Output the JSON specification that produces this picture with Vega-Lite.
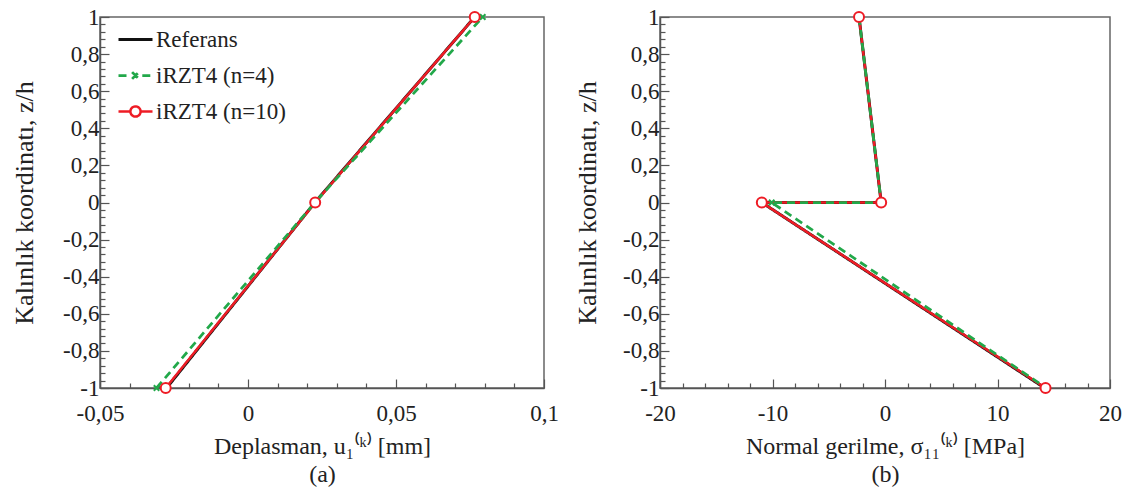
{
  "$schema": "https://vega.github.io/schema/vega-lite/v6.json",
  "padding": {"left": 10, "top": 5, "right": 5, "bottom": 5},
  "config": {
    "locale": {"number": {"decimal": ",", "thousands": ".", "grouping": [3], "currency": ["", ""], "minus": "-"}},
    "font": "Liberation Serif",
    "view": {"stroke": "#666", "strokeWidth": 1.5},
    "axis": {"grid": false, "domainColor": "#555", "domainWidth": 1.5, "tickColor": "#555", "tickWidth": 1.2,
      "labelFont": "Liberation Serif", "labelFontSize": 23, "labelColor": "#222",
      "titleFont": "Liberation Serif", "titleFontSize": 24, "titleFontWeight": "normal", "titleColor": "#222"},
    "axisY": {"titleFontSize": 26},
    "legend": {"labelFont": "Liberation Serif", "labelFontSize": 23, "labelColor": "#222"}
  },
  "datasets": {
    "disp": [
      {"s": "Referans", "i": 0, "u": -0.0275, "z": -1},
      {"s": "Referans", "i": 1, "u": 0.0226, "z": 0},
      {"s": "Referans", "i": 2, "u": 0.0766, "z": 1},
      {"s": "iRZT4 (n=10)", "i": 0, "u": -0.0278, "z": -1},
      {"s": "iRZT4 (n=10)", "i": 1, "u": 0.0227, "z": 0},
      {"s": "iRZT4 (n=10)", "i": 2, "u": 0.0766, "z": 1},
      {"s": "iRZT4 (n=4)", "i": 0, "u": -0.0309, "z": -1},
      {"s": "iRZT4 (n=4)", "i": 1, "u": 0.0226, "z": 0},
      {"s": "iRZT4 (n=4)", "i": 2, "u": 0.0793, "z": 1}
    ],
    "stress": [
      {"s": "Referans", "i": 0, "v": -2.31, "z": 1},
      {"s": "Referans", "i": 1, "v": -0.34, "z": 0},
      {"s": "Referans", "i": 2, "v": -10.95, "z": 0},
      {"s": "Referans", "i": 3, "v": 14.2, "z": -1},
      {"s": "iRZT4 (n=10)", "i": 0, "v": -2.31, "z": 1},
      {"s": "iRZT4 (n=10)", "i": 1, "v": -0.34, "z": 0},
      {"s": "iRZT4 (n=10)", "i": 2, "v": -10.95, "z": 0},
      {"s": "iRZT4 (n=10)", "i": 3, "v": 14.27, "z": -1},
      {"s": "iRZT4 (n=4)", "i": 0, "v": -2.31, "z": 1},
      {"s": "iRZT4 (n=4)", "i": 1, "v": -0.34, "z": 0},
      {"s": "iRZT4 (n=4)", "i": 2, "v": -10.07, "z": 0},
      {"s": "iRZT4 (n=4)", "i": 3, "v": 14.33, "z": -1}
    ]
  },
  "spacing": 13,
  "hconcat": [
    {
      "width": 444, "height": 371,
      "data": {"name": "disp"},
      "encoding": {
        "x": {"field": "u", "type": "quantitative",
          "scale": {"domain": [-0.05, 0.1], "nice": false, "zero": false},
          "axis": {"values": [-0.05,-0.04,-0.03,-0.02,-0.01,0,0.01,0.02,0.03,0.04,0.05,0.06,0.07,0.08,0.09,0.1],
            "format": ".2~f",
            "labelExpr": "abs(datum.value*20 - round(datum.value*20)) < 1e-6 ? datum.label : ''",
            "tickSize": {"condition": {"test": "abs(datum.value*20 - round(datum.value*20)) < 1e-6", "value": -9}, "value": -5},
            "labelPadding": 23, "labelFlush": false,
            "title": ["Deplasman, u₁⁽ᵏ⁾ [mm]", "(a)"], "titleLineHeight": 28, "titlePadding": 9}},
        "y": {"field": "z", "type": "quantitative",
          "scale": {"domain": [-1, 1], "nice": false},
          "axis": {"values": [-1,-0.96,-0.92,-0.88,-0.84,-0.8,-0.76,-0.72,-0.68,-0.64,-0.6,-0.56,-0.52,-0.48,-0.44,-0.4,-0.36,-0.32,-0.28,-0.24,-0.2,-0.16,-0.12,-0.08,-0.04,0,0.04,0.08,0.12,0.16,0.2,0.24,0.28,0.32,0.36,0.4,0.44,0.48,0.52,0.56,0.6,0.64,0.68,0.72,0.76,0.8,0.84,0.88,0.92,0.96,1],
            "format": ".1~f",
            "labelExpr": "abs(datum.value*5 - round(datum.value*5)) < 1e-6 ? datum.label : ''",
            "tickSize": {"condition": {"test": "abs(datum.value*5 - round(datum.value*5)) < 1e-6", "value": -9}, "value": -5},
            "labelPadding": 10, "labelFlush": false,
            "title": "Kalınlık koordinatı, z/h", "titlePadding": 25}}
      },
      "layer": [
        {"mark": {"type": "line"},
          "encoding": {
            "color": {"field": "s", "type": "nominal",
              "scale": {"domain": ["Referans", "iRZT4 (n=4)", "iRZT4 (n=10)"], "range": ["#111111", "#22a84a", "#ee1c25"]},
              "legend": {"title": null, "orient": "none", "legendX": 17, "legendY": 4, "padding": 0,
                "symbolSize": 1156, "symbolStrokeWidth": 2.5, "rowPadding": 5, "labelOffset": 2,
                "encode": {"symbols": {"update": {
                  "shape": {"signal": "datum.value === 'Referans' ? 'M-1,0L1,0' : datum.value === 'iRZT4 (n=4)' ? 'M-1,0L-0.4,0M0.4,0L1,0M-0.2,-0.2L0.2,0.2M-0.2,0.2L0.2,-0.2' : 'M-1,0L-0.3,0M0.3,0L1,0M0.3,0A0.3,0.3 0 1,1 -0.3,0A0.3,0.3 0 1,1 0.3,0'"},
                  "strokeDash": {"value": [1, 0]},
                  "fill": {"value": "transparent"}}}}}},
            "strokeDash": {"field": "s", "type": "nominal",
              "scale": {"domain": ["Referans", "iRZT4 (n=4)", "iRZT4 (n=10)"], "range": [[1, 0], [8, 5], [1, 0]]}, "legend": null},
            "strokeWidth": {"field": "s", "type": "nominal",
              "scale": {"domain": ["Referans", "iRZT4 (n=4)", "iRZT4 (n=10)"], "range": [3, 2.5, 2]}, "legend": null},
            "order": {"field": "i", "type": "quantitative"}
          }},
        {"transform": [{"filter": "datum.s === 'iRZT4 (n=4)'"}],
          "mark": {"type": "point", "shape": "M-1,-1L1,1M-1,1L1,-1", "size": 30, "filled": false, "stroke": "#22a84a", "strokeWidth": 2, "opacity": 1}},
        {"transform": [{"filter": "datum.s === 'iRZT4 (n=10)'"}],
          "mark": {"type": "point", "shape": "circle", "size": 100, "filled": false, "stroke": "#ee1c25", "fill": "white", "fillOpacity": 1, "strokeWidth": 2, "opacity": 1}}
      ]
    },
    {
      "width": 450, "height": 371,
      "data": {"name": "stress"},
      "encoding": {
        "x": {"field": "v", "type": "quantitative",
          "scale": {"domain": [-20, 20], "nice": false, "zero": false},
          "axis": {"values": [-20,-18,-16,-14,-12,-10,-8,-6,-4,-2,0,2,4,6,8,10,12,14,16,18,20],
            "format": "d",
            "labelExpr": "datum.value % 10 === 0 ? datum.label : ''",
            "tickSize": {"condition": {"test": "datum.value % 10 === 0", "value": -9}, "value": -5},
            "labelPadding": 23, "labelFlush": false,
            "title": ["Normal gerilme, σ₁₁⁽ᵏ⁾ [MPa]", "(b)"], "titleLineHeight": 28, "titlePadding": 9}},
        "y": {"field": "z", "type": "quantitative",
          "scale": {"domain": [-1, 1], "nice": false},
          "axis": {"values": [-1,-0.96,-0.92,-0.88,-0.84,-0.8,-0.76,-0.72,-0.68,-0.64,-0.6,-0.56,-0.52,-0.48,-0.44,-0.4,-0.36,-0.32,-0.28,-0.24,-0.2,-0.16,-0.12,-0.08,-0.04,0,0.04,0.08,0.12,0.16,0.2,0.24,0.28,0.32,0.36,0.4,0.44,0.48,0.52,0.56,0.6,0.64,0.68,0.72,0.76,0.8,0.84,0.88,0.92,0.96,1],
            "format": ".1~f",
            "labelExpr": "abs(datum.value*5 - round(datum.value*5)) < 1e-6 ? datum.label : ''",
            "tickSize": {"condition": {"test": "abs(datum.value*5 - round(datum.value*5)) < 1e-6", "value": -9}, "value": -5},
            "labelPadding": 10, "labelFlush": false,
            "title": "Kalınlık koordinatı, z/h", "titlePadding": 22}}
      },
      "layer": [
        {"mark": {"type": "line"},
          "encoding": {
            "color": {"field": "s", "type": "nominal",
              "scale": {"domain": ["Referans", "iRZT4 (n=4)", "iRZT4 (n=10)"], "range": ["#111111", "#22a84a", "#ee1c25"]},
              "legend": {"title": null, "orient": "none", "legendX": 17, "legendY": 4, "padding": 0,
                "symbolSize": 1156, "symbolStrokeWidth": 2.5, "rowPadding": 5, "labelOffset": 2,
                "encode": {"symbols": {"update": {
                  "shape": {"signal": "datum.value === 'Referans' ? 'M-1,0L1,0' : datum.value === 'iRZT4 (n=4)' ? 'M-1,0L-0.4,0M0.4,0L1,0M-0.2,-0.2L0.2,0.2M-0.2,0.2L0.2,-0.2' : 'M-1,0L-0.3,0M0.3,0L1,0M0.3,0A0.3,0.3 0 1,1 -0.3,0A0.3,0.3 0 1,1 0.3,0'"},
                  "strokeDash": {"value": [1, 0]},
                  "fill": {"value": "transparent"}}}}}},
            "strokeDash": {"field": "s", "type": "nominal",
              "scale": {"domain": ["Referans", "iRZT4 (n=4)", "iRZT4 (n=10)"], "range": [[1, 0], [8, 5], [1, 0]]}, "legend": null},
            "strokeWidth": {"field": "s", "type": "nominal",
              "scale": {"domain": ["Referans", "iRZT4 (n=4)", "iRZT4 (n=10)"], "range": [3, 2.5, 2]}, "legend": null},
            "order": {"field": "i", "type": "quantitative"}
          }},
        {"transform": [{"filter": "datum.s === 'iRZT4 (n=4)'"}],
          "mark": {"type": "point", "shape": "M-1,-1L1,1M-1,1L1,-1", "size": 30, "filled": false, "stroke": "#22a84a", "strokeWidth": 2, "opacity": 1}},
        {"transform": [{"filter": "datum.s === 'iRZT4 (n=10)'"}],
          "mark": {"type": "point", "shape": "circle", "size": 100, "filled": false, "stroke": "#ee1c25", "fill": "white", "fillOpacity": 1, "strokeWidth": 2, "opacity": 1}}
      ]
    }
  ],
  "resolve": {"scale": {"x": "independent", "y": "independent"}}
}
